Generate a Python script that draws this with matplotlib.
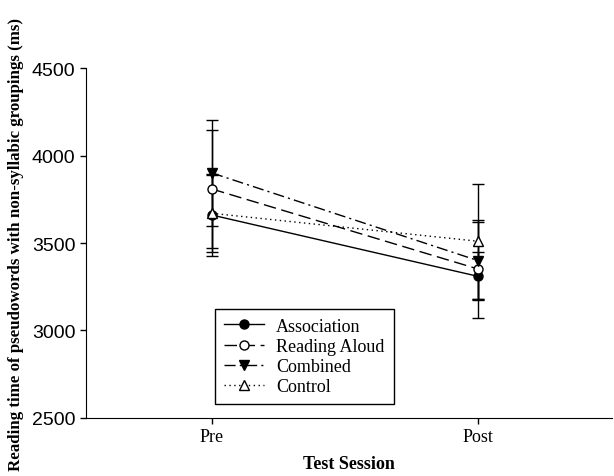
import numpy as np
import matplotlib.pyplot as plt

sessions = ["Pre", "Post"]
groups = ["Association", "Reading Aloud", "Combined", "Control"]

association = [3660, 3309]
reading_aloud = [3809, 3351]
combined = [3901, 3399]
control = [3670, 3510]

association_err = [235, 138]
reading_aloud_err = [338, 281]
combined_err = [305, 220]
control_err = [220, 328]

means = [association, reading_aloud, combined, control]
errs = [association_err, reading_aloud_err, combined_err, control_err]

styles = [
    dict(ls="-", marker="o", mfc="black"),
    dict(ls=(0, (9, 4)), marker="o", mfc="white"),
    dict(ls=(0, (8, 3, 1.5, 3)), marker="v", mfc="black"),
    dict(ls=(0, (1, 2.5)), marker="^", mfc="white"),
]

fig = plt.figure(figsize=(6.14, 4.77), dpi=100)
ax = fig.add_axes([0.140, 0.1224, 0.857, 0.7321])

x = np.arange(len(sessions))
for name, m, e, st in zip(groups, means, errs, styles):
    ax.errorbar(x, m, yerr=e, color="black", lw=1.0, elinewidth=1.0,
                capsize=4, capthick=1.0, ms=6.5, mec="black", mew=1.0,
                label=name, **st)

ax.set_xlim(-0.474, 1.504)
ax.set_ylim(2500, 4500)
ax.set_yticks([2500, 3000, 3500, 4000, 4500])
ax.set_xticks(x)
ax.set_xticklabels(sessions, family="Liberation Serif", fontsize=13)
for lab in ax.get_yticklabels():
    lab.set_family("Liberation Sans")
    lab.set_fontsize(14)

ax.spines["top"].set_visible(False)
ax.spines["right"].set_visible(False)
ax.tick_params(direction="out", length=4, width=1)

ax.set_xlabel("Test Session", family="Liberation Serif", fontweight="bold",
              fontsize=13, labelpad=7)
ax.set_ylabel("Reading time of pseudowords with non-syllabic groupings (ms)",
              family="Liberation Serif", fontweight="bold", fontsize=12.2,
              labelpad=6)

# legend handles without the error bars
handles, labels = ax.get_legend_handles_labels()
handles = [h[0] for h in handles]
leg = ax.legend(handles, labels, loc="lower left",
                bbox_to_anchor=(0.245, 0.039), borderaxespad=0,
                prop={"family": "Liberation Serif", "size": 13},
                handlelength=2.2, handletextpad=0.7, fancybox=False,
                edgecolor="black", framealpha=1, borderpad=0.5,
                labelspacing=0.17)
leg.get_frame().set_linewidth(1.0)

plt.savefig("out.png", dpi=100)
